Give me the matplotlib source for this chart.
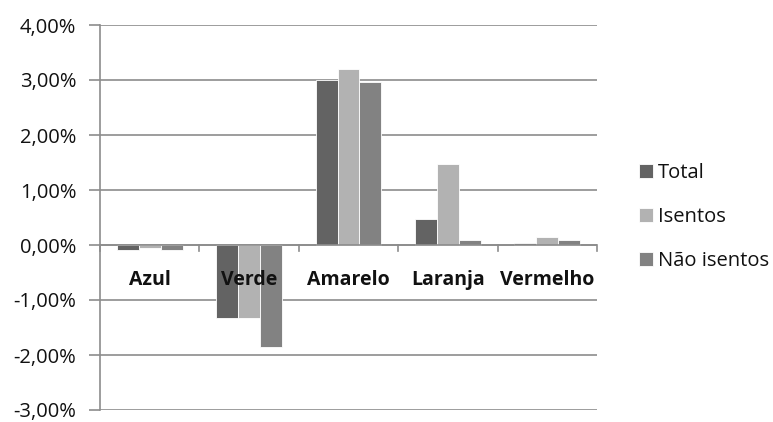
import matplotlib
matplotlib.use("Agg")
import matplotlib.pyplot as plt
import numpy as np
from matplotlib.ticker import FuncFormatter

categories = ["Azul", "Verde", "Amarelo", "Laranja", "Vermelho"]
series_names = ["Total", "Isentos", "Não isentos"]
total = [-0.09, -1.32, 3.00, 0.47, 0.04]
isentos = [-0.05, -1.32, 3.20, 1.47, 0.14]
nao_isentos = [-0.09, -1.85, 2.96, 0.10, 0.09]
yticks = [-3, -2, -1, 0, 1, 2, 3, 4]

colors = ["#636363", "#b2b2b2", "#828282"]
plt.rcParams['font.family'] = ['Open Sans', 'DejaVu Sans']

fig = plt.figure(figsize=(7.73, 4.22), dpi=100)
ax = fig.add_axes([100/773, 1-410/422, 497/773, 385/422])

x = np.arange(len(categories))
w = 0.22
handles = []
for i, (vals, c, name) in enumerate(zip([total, isentos, nao_isentos], colors, series_names)):
    b = ax.bar(x + (i-1)*w, vals, width=w, color=c, edgecolor="white", linewidth=0.6, label=name, zorder=3)
    handles.append(b)

ax.set_xlim(-0.5, len(categories)-0.5)
ax.set_ylim(-3, 4)
ax.set_yticks(yticks)
ax.yaxis.set_major_formatter(FuncFormatter(lambda v, p: f"{v:.2f}%".replace(".", ",")))
ax.grid(axis="y", color="#8c8c8c", linewidth=1.2, zorder=0)
for s in ["top", "right", "bottom"]:
    ax.spines[s].set_visible(False)
ax.spines["left"].set_color("#8c8c8c")
ax.spines["left"].set_linewidth(1.2)
ax.tick_params(axis="y", length=8, color="#8c8c8c", width=1.2, labelsize=14.5, pad=9, labelcolor="#111111")
ax.set_xticks([])

ax.axhline(0, color="#8c8c8c", linewidth=1.2, zorder=4)
for k in range(len(categories)+1):
    ax.plot([k-0.5, k-0.5], [0, -0.1], color="#8c8c8c", linewidth=1.2, zorder=4, clip_on=False)

for xi, cat in zip(x, categories):
    ax.text(xi, -0.63, cat, ha="center", va="center", fontsize=14, fontweight="bold", color="#111111", zorder=5)

leg = fig.legend(handles=handles, labels=series_names, loc="center left", bbox_to_anchor=(639/773, 1-217/422),
                 frameon=False, fontsize=14.5, handlelength=0.7, handleheight=0.7, handletextpad=0.25,
                 labelspacing=1.2, borderpad=0, borderaxespad=0)
for t in leg.get_texts():
    t.set_color("#111111")

fig.savefig("out.png", dpi=100)
